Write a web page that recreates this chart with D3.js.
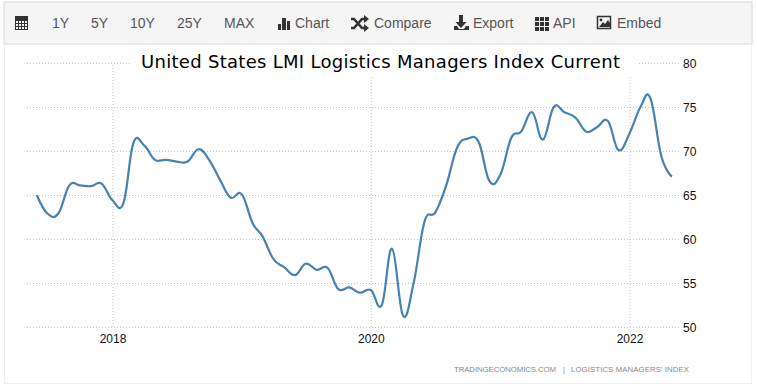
<!DOCTYPE html>
<html><head><meta charset="utf-8">
<script src="https://cdn.jsdelivr.net/npm/d3@7"></script>
<style>
html,body{margin:0;padding:0;background:#fff;overflow:hidden}
svg{display:block}
text{font-family:"Liberation Sans",Arial,sans-serif}
</style></head><body>
<svg id="c" width="757" height="391"></svg>
<script>
const chartTitle = "United States LMI Logistics Managers Index Current";
const footerParts = [["TRADINGECONOMICS.COM",454,102],["|",563,2],["LOGISTICS MANAGERS' INDEX",571,118]];
const startYear = 2017, startMonth = 5; // June 2017
const values = [65.0,62.9,62.9,66.1,66.1,66.0,66.3,64.4,64.1,70.9,70.6,69.0,
  69.0,68.8,68.8,70.2,69.0,66.7,64.7,65.1,61.8,60.3,57.7,56.8,
  55.9,57.2,56.5,56.7,54.3,54.5,53.9,54.2,52.5,58.9,51.3,55.0,
  62.0,63.0,66.1,70.4,71.4,71.0,66.6,67.3,71.5,72.2,74.4,71.3,
  75.0,74.4,73.8,72.2,72.7,73.4,70.1,72.0,75.0,76.0,69.4,67.1];
const yTicks = [50,55,60,65,70,75,80];
const xTickYears = [2018,2020,2022];
const toolbarRanges = [["1Y",52],["5Y",91],["10Y",130],["25Y",177],["MAX",224]];
const toolbarActions = [["Chart",295],["Compare",374],["Export",473],["API",553],["Embed",617]];

const svg = d3.select("#c");
const dates = values.map((_, i) => new Date(Date.UTC(startYear, startMonth + i, 1)));
const x = d3.scaleUtc().domain([new Date(Date.UTC(2018,0,1)), new Date(Date.UTC(2022,0,1))]).range([112.5,629.5]);
const y = d3.scaleLinear().domain([50,80]).range([327,63]);

// frame + toolbar
svg.append("rect").attr("x",4.5).attr("y",2.5).attr("width",747).attr("height",381).attr("fill","#fff").attr("stroke","#f0f0f0");
svg.append("rect").attr("x",4).attr("y",2).attr("width",748).attr("height",42).attr("fill","#f5f5f5").attr("stroke","#e3e3e3").attr("stroke-width",1.5);

const tb = svg.append("g").attr("fill","#555").attr("font-size",14);
toolbarRanges.concat(toolbarActions).forEach(([t,px]) => tb.append("text").attr("x",px).attr("y",28).text(t));

const ic = svg.append("g").attr("fill","#333");
// calendar
ic.append("rect").attr("x",15).attr("y",16).attr("width",13).attr("height",14).attr("fill","#333");
ic.selectAll(".cal").data(d3.cross([0,1,2,3],[0,1,2])).join("rect")
  .attr("x",d=>16+d[0]*3).attr("y",d=>21+d[1]*3).attr("width",2).attr("height",2).attr("fill","#f5f5f5");
// chart bars
[[278,24,3,6],[282,18,4,12],[287,21,3,9]].forEach(r=>ic.append("rect").attr("x",r[0]).attr("y",r[1]).attr("width",r[2]).attr("height",r[3]));
// shuffle
ic.append("path").attr("fill","none").attr("stroke","#333").attr("stroke-width",2.6).attr("d","M351 19h3l8 9h3M351 28h3l8-9h3");
ic.append("path").attr("d","M364 15l5 4-5 4zM364 24l5 4-5 4z");
// export
ic.append("path").attr("d","M459 15h4v7h3.5l-5.500 6-5.500-6h3.500z");
ic.append("path").attr("d","M454 26h3l2 3h5l2-3h3v4h-15z");
// API grid
ic.selectAll(".api").data(d3.cross([0,1,2],[0,1,2])).join("rect")
  .attr("x",d=>535+d[0]*5).attr("y",d=>17+d[1]*5).attr("width",4).attr("height",4);
// embed
ic.append("rect").attr("x",597.5).attr("y",16.500).attr("width",13).attr("height",12).attr("fill","#f5f5f5").attr("stroke","#333").attr("stroke-width",1.500);
ic.append("path").attr("d","M599 27l4-5 2 2 3-4 2 3v4z");
ic.append("circle").attr("cx",601).attr("cy",20).attr("r",1.400);

// axes
const gridStyle = sel => sel.attr("stroke","#c4c4c4").attr("stroke-dasharray","1,2");
const yAxis = svg.append("g").attr("transform","translate(679,0)")
  .call(d3.axisRight(y).tickValues(yTicks).tickSize(-653).tickPadding(4));
yAxis.select(".domain").remove();
yAxis.selectAll("line").call(gridStyle);
yAxis.selectAll("text").attr("font-size",12).attr("fill","#111").attr("font-family","'Liberation Sans'").attr("dy","0.36em");

const xAxis = svg.append("g").attr("transform","translate(0,327)")
  .call(d3.axisBottom(x).tickValues(xTickYears.map(v=>new Date(Date.UTC(v,0,1)))).tickFormat(d3.utcFormat("%Y")).tickSize(-264).tickPadding(7));
xAxis.select(".domain").remove();
xAxis.selectAll("line").call(gridStyle);
xAxis.selectAll("text").attr("font-size",12).attr("fill","#111").attr("font-family","'Liberation Sans'");

// title with background
svg.append("rect").attr("x",132).attr("y",50).attr("width",505).attr("height",26).attr("fill","#fff");
svg.append("text").attr("x",141).attr("y",67.500).attr("font-size",18).attr("fill","#000")
  .style("font-family","'DejaVu Sans'").attr("textLength",479).text(chartTitle);

// line
const line = d3.line().x((_,i)=>x(dates[i])).y(d=>y(d)).curve(d3.curveCardinal.tension(-0.2));
svg.append("path").datum(values).attr("d",line).attr("fill","none").attr("stroke","#4682b4").attr("stroke-width",2.200).attr("stroke-linejoin","round");

// footer
svg.append("g").attr("font-size",7.800).attr("fill","#8a8a8a").selectAll("text").data(footerParts).join("text")
  .attr("x",d=>d[1]).attr("y",372).attr("textLength",d=>d[2]).text(d=>d[0]);
</script></body></html>
